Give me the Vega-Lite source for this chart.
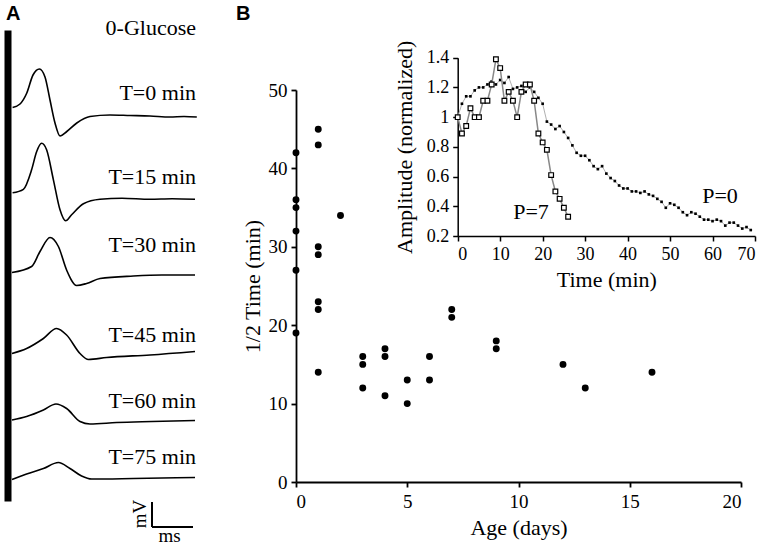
{
"$schema":"https://vega.github.io/schema/vega-lite/v6.json",
"width":774,"height":545,"padding":0,"autosize":{"type":"none"},"background":"white",
"config":{"view":{"stroke":null},"font":"Liberation Serif","text":{"font":"Liberation Serif"},
"axis":{"grid":false,"domainColor":"black","tickColor":"black","labelColor":"black","titleColor":"black","labelFont":"Liberation Serif","titleFont":"Liberation Serif","titleFontWeight":"normal","domainWidth":1.8,"tickWidth":1.8,"tickSize":5}},
"datasets":{
"traces":[
{"trace":"T=0 min","t":0.03,"v":0.19},{"trace":"T=0 min","t":0.4,"v":0.26},{"trace":"T=0 min","t":0.74,"v":0.48},{"trace":"T=0 min","t":1.05,"v":0.84},{"trace":"T=0 min","t":1.37,"v":0.96},{"trace":"T=0 min","t":1.65,"v":0.8},{"trace":"T=0 min","t":1.9,"v":0.34},{"trace":"T=0 min","t":2.15,"v":-0.12},{"trace":"T=0 min","t":2.4,"v":-0.38},{"trace":"T=0 min","t":2.74,"v":-0.29},{"trace":"T=0 min","t":3.24,"v":-0.12},{"trace":"T=0 min","t":3.9,"v":0.01},{"trace":"T=0 min","t":4.9,"v":0.04},{"trace":"T=0 min","t":5.9,"v":0.03},{"trace":"T=0 min","t":6.9,"v":0.02},{"trace":"T=0 min","t":7.9,"v":0.0},{"trace":"T=0 min","t":8.6,"v":0.01},{"trace":"T=0 min","t":9.24,"v":0},
{"trace":"T=15 min","t":0.03,"v":0.13},{"trace":"T=15 min","t":0.57,"v":0.2},{"trace":"T=15 min","t":0.98,"v":0.59},{"trace":"T=15 min","t":1.23,"v":0.95},{"trace":"T=15 min","t":1.48,"v":1.12},{"trace":"T=15 min","t":1.73,"v":0.99},{"trace":"T=15 min","t":2.07,"v":0.39},{"trace":"T=15 min","t":2.4,"v":-0.21},{"trace":"T=15 min","t":2.68,"v":-0.43},{"trace":"T=15 min","t":2.98,"v":-0.31},{"trace":"T=15 min","t":3.57,"v":-0.09},{"trace":"T=15 min","t":4.4,"v":0},{"trace":"T=15 min","t":5.5,"v":0.02},{"trace":"T=15 min","t":6.9,"v":0},{"trace":"T=15 min","t":8,"v":0.01},{"trace":"T=15 min","t":9.15,"v":0},
{"trace":"T=30 min","t":0,"v":0.05},{"trace":"T=30 min","t":0.98,"v":0.17},{"trace":"T=30 min","t":1.4,"v":0.47},{"trace":"T=30 min","t":1.9,"v":0.75},{"trace":"T=30 min","t":2.32,"v":0.57},{"trace":"T=30 min","t":2.73,"v":0.1},{"trace":"T=30 min","t":3.23,"v":-0.21},{"trace":"T=30 min","t":3.73,"v":-0.17},{"trace":"T=30 min","t":4.4,"v":-0.07},{"trace":"T=30 min","t":6.07,"v":-0.02},{"trace":"T=30 min","t":7.5,"v":0},{"trace":"T=30 min","t":9.15,"v":0},
{"trace":"T=45 min","t":0,"v":-0.01},{"trace":"T=45 min","t":0.73,"v":0.09},{"trace":"T=45 min","t":1.57,"v":0.29},{"trace":"T=45 min","t":2.23,"v":0.49},{"trace":"T=45 min","t":2.73,"v":0.36},{"trace":"T=45 min","t":3.4,"v":-0.01},{"trace":"T=45 min","t":3.82,"v":-0.13},{"trace":"T=45 min","t":4.73,"v":-0.09},{"trace":"T=45 min","t":6.9,"v":-0.04},{"trace":"T=45 min","t":9.15,"v":0.03},
{"trace":"T=60 min","t":0,"v":0.02},{"trace":"T=60 min","t":0.73,"v":0.09},{"trace":"T=60 min","t":1.57,"v":0.22},{"trace":"T=60 min","t":2.2,"v":0.34},{"trace":"T=60 min","t":2.73,"v":0.25},{"trace":"T=60 min","t":3.4,"v":-0.01},{"trace":"T=60 min","t":3.9,"v":-0.06},{"trace":"T=60 min","t":5.23,"v":-0.03},{"trace":"T=60 min","t":7,"v":-0.01},{"trace":"T=60 min","t":9.15,"v":0.01},
{"trace":"T=75 min","t":0,"v":-0.04},{"trace":"T=75 min","t":0.73,"v":0.07},{"trace":"T=75 min","t":1.57,"v":0.18},{"trace":"T=75 min","t":2.32,"v":0.3},{"trace":"T=75 min","t":2.9,"v":0.18},{"trace":"T=75 min","t":3.48,"v":0.03},{"trace":"T=75 min","t":3.98,"v":-0.03},{"trace":"T=75 min","t":6.07,"v":-0.02},{"trace":"T=75 min","t":9.15,"v":0}
],
"ages":[
{"age":0,"half":42},{"age":0,"half":36},{"age":0,"half":35},{"age":0,"half":32},{"age":0,"half":27},{"age":0,"half":19},
{"age":1,"half":45},{"age":1,"half":43},{"age":1,"half":30},{"age":1,"half":29},{"age":1,"half":23},{"age":1,"half":22},{"age":1,"half":14},
{"age":2,"half":34},{"age":3,"half":16},{"age":3,"half":15},{"age":3,"half":12},{"age":4,"half":17},{"age":4,"half":16},{"age":4,"half":11},
{"age":5,"half":13},{"age":5,"half":10},{"age":6,"half":16},{"age":6,"half":13},{"age":7,"half":22},{"age":7,"half":21},{"age":9,"half":18},{"age":9,"half":17},
{"age":12,"half":15},{"age":13,"half":12},{"age":16,"half":14}
],
"inset":[
{"series":"P=0","t":0,"a":1.0},{"series":"P=0","t":1,"a":1.09},{"series":"P=0","t":2,"a":1.14},{"series":"P=0","t":3,"a":1.14},{"series":"P=0","t":4,"a":1.18},{"series":"P=0","t":5,"a":1.2},{"series":"P=0","t":6,"a":1.2},{"series":"P=0","t":7,"a":1.22},{"series":"P=0","t":8,"a":1.24},{"series":"P=0","t":9,"a":1.22},{"series":"P=0","t":10,"a":1.25},{"series":"P=0","t":11,"a":1.23},{"series":"P=0","t":12,"a":1.27},{"series":"P=0","t":13,"a":1.19},{"series":"P=0","t":14,"a":1.2},{"series":"P=0","t":15,"a":1.21},{"series":"P=0","t":16,"a":1.17},{"series":"P=0","t":17,"a":1.2},{"series":"P=0","t":18,"a":1.17},{"series":"P=0","t":19,"a":1.13},{"series":"P=0","t":20,"a":1.09},{"series":"P=0","t":21,"a":0.97},{"series":"P=0","t":22,"a":0.95},{"series":"P=0","t":23,"a":0.92},{"series":"P=0","t":24,"a":0.94},{"series":"P=0","t":25,"a":0.9},{"series":"P=0","t":26,"a":0.86},{"series":"P=0","t":27,"a":0.81},{"series":"P=0","t":28,"a":0.76},{"series":"P=0","t":29,"a":0.74},{"series":"P=0","t":30,"a":0.74},{"series":"P=0","t":31,"a":0.71},{"series":"P=0","t":32,"a":0.67},{"series":"P=0","t":33,"a":0.65},{"series":"P=0","t":34,"a":0.67},{"series":"P=0","t":35,"a":0.62},{"series":"P=0","t":36,"a":0.59},{"series":"P=0","t":37,"a":0.57},{"series":"P=0","t":38,"a":0.54},{"series":"P=0","t":39,"a":0.52},{"series":"P=0","t":40,"a":0.52},{"series":"P=0","t":41,"a":0.5},{"series":"P=0","t":42,"a":0.5},{"series":"P=0","t":43,"a":0.49},{"series":"P=0","t":44,"a":0.5},{"series":"P=0","t":45,"a":0.48},{"series":"P=0","t":46,"a":0.47},{"series":"P=0","t":47,"a":0.45},{"series":"P=0","t":48,"a":0.43},{"series":"P=0","t":49,"a":0.39},{"series":"P=0","t":50,"a":0.42},{"series":"P=0","t":51,"a":0.41},{"series":"P=0","t":52,"a":0.39},{"series":"P=0","t":53,"a":0.36},{"series":"P=0","t":54,"a":0.34},{"series":"P=0","t":55,"a":0.36},{"series":"P=0","t":56,"a":0.35},{"series":"P=0","t":57,"a":0.33},{"series":"P=0","t":58,"a":0.31},{"series":"P=0","t":59,"a":0.31},{"series":"P=0","t":60,"a":0.3},{"series":"P=0","t":61,"a":0.31},{"series":"P=0","t":62,"a":0.3},{"series":"P=0","t":63,"a":0.27},{"series":"P=0","t":64,"a":0.29},{"series":"P=0","t":65,"a":0.29},{"series":"P=0","t":66,"a":0.27},{"series":"P=0","t":67,"a":0.25},{"series":"P=0","t":68,"a":0.26},{"series":"P=0","t":69,"a":0.24},
{"series":"P=7","t":0,"a":1.0},{"series":"P=7","t":1,"a":0.89},{"series":"P=7","t":2,"a":0.94},{"series":"P=7","t":3,"a":1.06},{"series":"P=7","t":4,"a":1.0},{"series":"P=7","t":5,"a":1.0},{"series":"P=7","t":6,"a":1.11},{"series":"P=7","t":7,"a":1.11},{"series":"P=7","t":8,"a":1.22},{"series":"P=7","t":9,"a":1.39},{"series":"P=7","t":10,"a":1.33},{"series":"P=7","t":11,"a":1.11},{"series":"P=7","t":12,"a":1.17},{"series":"P=7","t":13,"a":1.11},{"series":"P=7","t":14,"a":1.0},{"series":"P=7","t":15,"a":1.17},{"series":"P=7","t":16,"a":1.22},{"series":"P=7","t":17,"a":1.22},{"series":"P=7","t":18,"a":1.11},{"series":"P=7","t":19,"a":0.89},{"series":"P=7","t":20,"a":0.83},{"series":"P=7","t":21,"a":0.78},{"series":"P=7","t":22,"a":0.61},{"series":"P=7","t":23,"a":0.5},{"series":"P=7","t":24,"a":0.45},{"series":"P=7","t":25,"a":0.39},{"series":"P=7","t":26,"a":0.33}
]},
"resolve":{"scale":{"x":"independent","y":"independent"}},
"layer":[
{"layer":[
 {"data":{"name":"traces"},"transform":[{"filter":"datum.trace === 'T=0 min'"}],"mark":{"type":"line","color":"black","strokeWidth":1.6,"interpolate":"monotone"},
  "encoding":{"x":{"field":"t","type":"quantitative","scale":{"domain":[0,9.25],"range":[12,197],"zero":false,"nice":false},"axis":null},"y":{"field":"v","type":"quantitative","scale":{"domain":[-1,1],"range":[167,67],"zero":false,"nice":false},"axis":null}}},
 {"data":{"values":[{}]},"mark":{"type":"rule","color":"black","strokeWidth":7},"encoding":{"x":{"datum":-0.2,"type":"quantitative"},"y":{"datum":1.73,"type":"quantitative"},"y2":{"datum":-7.69}}},
 {"data":{"values":[{"label":"A"}]},"mark":{"type":"text","font":"Liberation Sans","fontWeight":"bold","fontSize":20,"align":"left","baseline":"alphabetic","color":"black"},"encoding":{"x":{"datum":-0.3,"type":"quantitative"},"y":{"datum":1.94,"type":"quantitative"},"text":{"field":"label"}}},
 {"data":{"values":[{"label":"0-Glucose"}]},"mark":{"type":"text","font":"Liberation Serif","fontSize":22,"align":"right","baseline":"alphabetic","color":"black"},"encoding":{"x":{"datum":9.2,"type":"quantitative"},"y":{"datum":1.64,"type":"quantitative"},"text":{"field":"label"}}},
 {"data":{"values":[{"label":"T=0 min"}]},"mark":{"type":"text","font":"Liberation Serif","fontSize":22,"align":"right","baseline":"alphabetic","color":"black"},"encoding":{"x":{"datum":9.2,"type":"quantitative"},"y":{"datum":0.34,"type":"quantitative"},"text":{"field":"label"}}}
]},
{"layer":[
 {"data":{"name":"traces"},"transform":[{"filter":"datum.trace === 'T=15 min'"}],"mark":{"type":"line","color":"black","strokeWidth":1.6,"interpolate":"monotone"},
  "encoding":{"x":{"field":"t","type":"quantitative","scale":{"domain":[0,9.25],"range":[12,197],"zero":false,"nice":false},"axis":null},"y":{"field":"v","type":"quantitative","scale":{"domain":[-1,1],"range":[249.3,149.3],"zero":false,"nice":false},"axis":null}}},
 {"data":{"values":[{"label":"T=15 min"}]},"mark":{"type":"text","font":"Liberation Serif","fontSize":22,"align":"right","baseline":"alphabetic","color":"black"},"encoding":{"x":{"datum":9.2,"type":"quantitative"},"y":{"datum":0.306,"type":"quantitative"},"text":{"field":"label"}}}
]},
{"layer":[
 {"data":{"name":"traces"},"transform":[{"filter":"datum.trace === 'T=30 min'"}],"mark":{"type":"line","color":"black","strokeWidth":1.6,"interpolate":"monotone"},
  "encoding":{"x":{"field":"t","type":"quantitative","scale":{"domain":[0,9.25],"range":[12,197],"zero":false,"nice":false},"axis":null},"y":{"field":"v","type":"quantitative","scale":{"domain":[-1,1],"range":[325,225],"zero":false,"nice":false},"axis":null}}},
 {"data":{"values":[{"label":"T=30 min"}]},"mark":{"type":"text","font":"Liberation Serif","fontSize":22,"align":"right","baseline":"alphabetic","color":"black"},"encoding":{"x":{"datum":9.2,"type":"quantitative"},"y":{"datum":0.466,"type":"quantitative"},"text":{"field":"label"}}}
]},
{"layer":[
 {"data":{"name":"traces"},"transform":[{"filter":"datum.trace === 'T=45 min'"}],"mark":{"type":"line","color":"black","strokeWidth":1.6,"interpolate":"monotone"},
  "encoding":{"x":{"field":"t","type":"quantitative","scale":{"domain":[0,9.25],"range":[12,197],"zero":false,"nice":false},"axis":null},"y":{"field":"v","type":"quantitative","scale":{"domain":[-1,1],"range":[403,303],"zero":false,"nice":false},"axis":null}}},
 {"data":{"values":[{"label":"T=45 min"}]},"mark":{"type":"text","font":"Liberation Serif","fontSize":22,"align":"right","baseline":"alphabetic","color":"black"},"encoding":{"x":{"datum":9.2,"type":"quantitative"},"y":{"datum":0.226,"type":"quantitative"},"text":{"field":"label"}}}
]},
{"layer":[
 {"data":{"name":"traces"},"transform":[{"filter":"datum.trace === 'T=60 min'"}],"mark":{"type":"line","color":"black","strokeWidth":1.6,"interpolate":"monotone"},
  "encoding":{"x":{"field":"t","type":"quantitative","scale":{"domain":[0,9.25],"range":[12,197],"zero":false,"nice":false},"axis":null},"y":{"field":"v","type":"quantitative","scale":{"domain":[-1,1],"range":[471,371],"zero":false,"nice":false},"axis":null}}},
 {"data":{"values":[{"label":"T=60 min"}]},"mark":{"type":"text","font":"Liberation Serif","fontSize":22,"align":"right","baseline":"alphabetic","color":"black"},"encoding":{"x":{"datum":9.2,"type":"quantitative"},"y":{"datum":0.254,"type":"quantitative"},"text":{"field":"label"}}}
]},
{"layer":[
 {"data":{"name":"traces"},"transform":[{"filter":"datum.trace === 'T=75 min'"}],"mark":{"type":"line","color":"black","strokeWidth":1.6,"interpolate":"monotone"},
  "encoding":{"x":{"field":"t","type":"quantitative","scale":{"domain":[0,9.25],"range":[12,197],"zero":false,"nice":false},"axis":null},"y":{"field":"v","type":"quantitative","scale":{"domain":[-1,1],"range":[527.5,427.5],"zero":false,"nice":false},"axis":null}}},
 {"data":{"values":[{"label":"T=75 min"}]},"mark":{"type":"text","font":"Liberation Serif","fontSize":22,"align":"right","baseline":"alphabetic","color":"black"},"encoding":{"x":{"datum":9.2,"type":"quantitative"},"y":{"datum":0.264,"type":"quantitative"},"text":{"field":"label"}}},
 {"data":{"values":[{}]},"mark":{"type":"rule","color":"black","strokeWidth":2},"encoding":{"x":{"datum":7.0,"type":"quantitative"},"y":{"datum":-0.49,"type":"quantitative"},"y2":{"datum":-0.99}}},
 {"data":{"values":[{}]},"mark":{"type":"rule","color":"black","strokeWidth":2},"encoding":{"x":{"datum":7.0,"type":"quantitative"},"x2":{"datum":9.05},"y":{"datum":-0.99,"type":"quantitative"}}},
 {"data":{"values":[{"label":"mV"}]},"mark":{"type":"text","font":"Liberation Serif","fontSize":19,"align":"center","baseline":"middle","angle":270,"color":"black"},"encoding":{"x":{"datum":6.375,"type":"quantitative"},"y":{"datum":-0.73,"type":"quantitative"},"text":{"field":"label"}}},
 {"data":{"values":[{"label":"ms"}]},"mark":{"type":"text","font":"Liberation Serif","fontSize":19,"align":"center","baseline":"middle","color":"black"},"encoding":{"x":{"datum":7.875,"type":"quantitative"},"y":{"datum":-1.17,"type":"quantitative"},"text":{"field":"label"}}}
]},
{"layer":[
 {"data":{"name":"ages"},"mark":{"type":"point","filled":true,"shape":"circle","size":48,"color":"black","opacity":1},
  "encoding":{"x":{"field":"age","type":"quantitative","scale":{"domain":[0,20],"range":[296,741],"zero":false,"nice":false},"axis":{"orient":"bottom","offset":-63,"values":[0,5,10,15,20],"title":"Age (days)","labelFont":"Liberation Serif","titleFont":"Liberation Serif","labelFontSize":19,"titleFontSize":22,"labelPadding":5,"titlePadding":6}},
  "y":{"field":"half","type":"quantitative","scale":{"domain":[0,50],"range":[482,90],"zero":false,"nice":false},"axis":{"orient":"left","offset":-296,"values":[0,10,20,30,40,50],"title":"1/2 Time (min)","labelFont":"Liberation Serif","titleFont":"Liberation Serif","labelFontSize":19,"titleFontSize":22,"labelPadding":4,"titlePadding":4}}}},
 {"data":{"values":[{"label":"B"}]},"mark":{"type":"text","font":"Liberation Sans","fontWeight":"bold","fontSize":20,"align":"left","baseline":"alphabetic","color":"black"},"encoding":{"x":{"datum":-2.7,"type":"quantitative"},"y":{"datum":58.9,"type":"quantitative"},"text":{"field":"label"}}}
]},
{"layer":[
 {"data":{"name":"inset"},"transform":[{"filter":"datum.series === 'P=0'"}],"mark":{"type":"line","color":"#b0b0b0","strokeWidth":1},
  "encoding":{"x":{"field":"t","type":"quantitative","scale":{"domain":[0,70],"range":[457.7,755],"zero":false,"nice":false},"axis":{"orient":"bottom","offset":-309,"values":[0,10,20,30,40,50,60,70],"title":"Time (min)","labelFont":"Liberation Serif","titleFont":"Liberation Serif","labelFontSize":18,"titleFontSize":22,"labelPadding":4,"titlePadding":6,"domainWidth":1.5,"tickWidth":1.5}},
  "y":{"field":"a","type":"quantitative","scale":{"domain":[0.2,1.4],"range":[236,57.7],"zero":false,"nice":false},"axis":{"orient":"left","offset":-457.7,"values":[0.2,0.4,0.6,0.8,1,1.2,1.4],"format":"~g","title":"Amplitude (normalized)","labelFont":"Liberation Serif","titleFont":"Liberation Serif","labelFontSize":18,"titleFontSize":22,"labelPadding":4,"titlePadding":10,"domainWidth":1.5,"tickWidth":1.5}}}},
 {"data":{"name":"inset"},"transform":[{"filter":"datum.series === 'P=0'"}],"mark":{"type":"point","shape":"square","filled":true,"size":7,"color":"black","opacity":1},
  "encoding":{"x":{"field":"t","type":"quantitative"},"y":{"field":"a","type":"quantitative"}}},
 {"data":{"name":"inset"},"transform":[{"filter":"datum.series === 'P=7'"}],"mark":{"type":"line","color":"#888888","strokeWidth":1.5},
  "encoding":{"x":{"field":"t","type":"quantitative"},"y":{"field":"a","type":"quantitative"}}},
 {"data":{"name":"inset"},"transform":[{"filter":"datum.series === 'P=7'"}],"mark":{"type":"point","shape":"square","filled":true,"size":22,"fill":"white","stroke":"black","strokeWidth":1.2,"opacity":1},
  "encoding":{"x":{"field":"t","type":"quantitative"},"y":{"field":"a","type":"quantitative"}}},
 {"data":{"values":[{"label":"P=7"}]},"mark":{"type":"text","font":"Liberation Serif","fontSize":22,"align":"center","baseline":"alphabetic","color":"black"},"encoding":{"x":{"datum":17.26,"type":"quantitative"},"y":{"datum":0.314,"type":"quantitative"},"text":{"field":"label"}}},
 {"data":{"values":[{"label":"P=0"}]},"mark":{"type":"text","font":"Liberation Serif","fontSize":22,"align":"center","baseline":"alphabetic","color":"black"},"encoding":{"x":{"datum":61.76,"type":"quantitative"},"y":{"datum":0.424,"type":"quantitative"},"text":{"field":"label"}}}
]}
]
}
